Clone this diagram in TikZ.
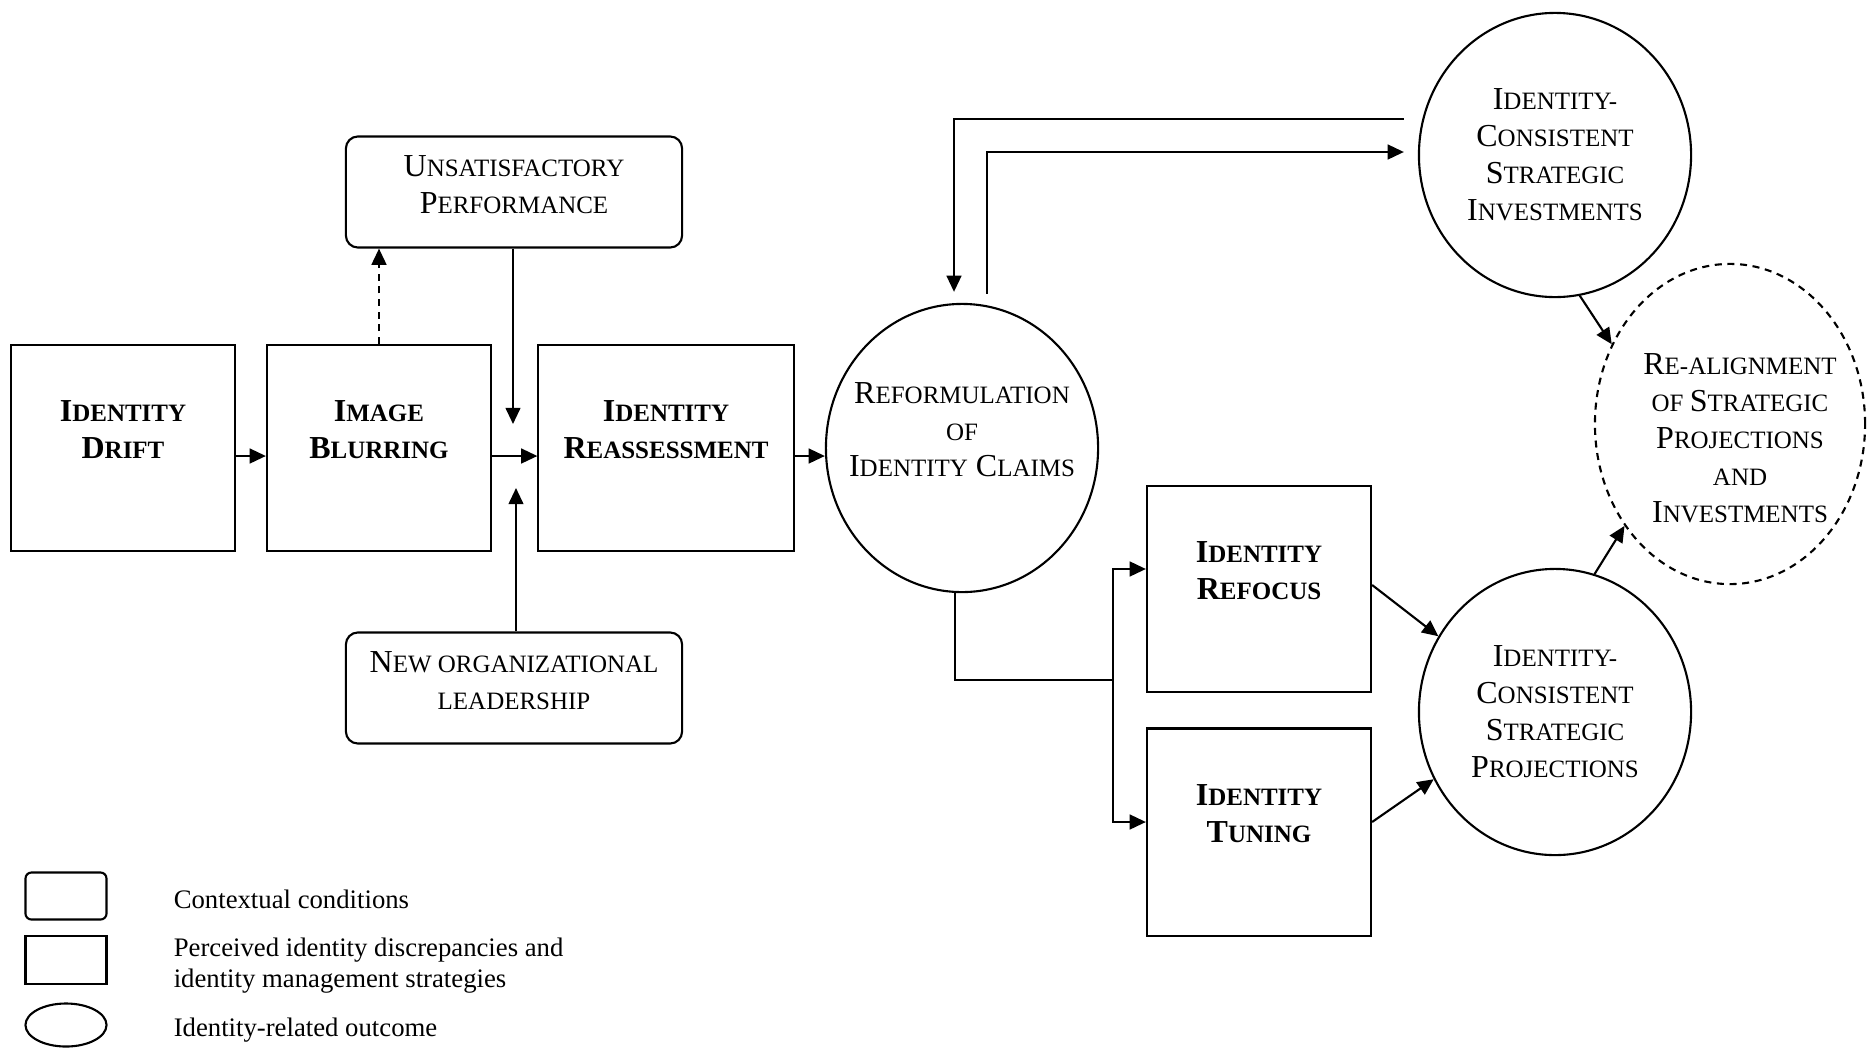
\documentclass[tikz,border=0pt]{standalone}
\usepackage{fontspec}
\setmainfont{Liberation Serif}
\usetikzlibrary{shapes.geometric,arrows.meta}
\newcommand\lowcap[1]{{\fontsize{7.1}{10.5}\selectfont #1}}

\begin{document}
\begin{tikzpicture}[x=0.01cm,y=-0.01cm,line width=0.6pt,
    >={Triangle[length=4.6pt,width=4.2pt]},
    every node/.style={font=\fontsize{9.1}{10.5}\selectfont,align=center},
    stage/.style={draw,rectangle,minimum width=2.24cm,minimum height=2.06cm},
    context/.style={draw,rectangle,rounded corners=0.12cm,minimum width=3.36cm,minimum height=1.11cm},
    outcome/.style={draw,ellipse,inner xsep=-12pt,minimum width=2.72cm,minimum height=2.86cm},
    dashline/.style={dash pattern=on 2pt off 1.6pt},
    keytext/.style={anchor=west,align=left,font=\fontsize{7.6}{8.8}\selectfont}]
      \useasboundingbox (0,0) rectangle (1867,1048);

      \node[stage] (drift) at (123,448) {\textbf{I\lowcap{DENTITY}}\\\textbf{D\lowcap{RIFT}}\\\mbox{}};
      \node[stage] (blur) at (379,448) {\textbf{I\lowcap{MAGE}}\\\textbf{B\lowcap{LURRING}}\\\mbox{}};
      \node[stage,minimum width=2.55cm] (reassess) at (666,448) {\textbf{I\lowcap{DENTITY}}\\\textbf{R\lowcap{EASSESSMENT}}\\\mbox{}};

      \node[context] (perform) at (514,192) {U\lowcap{NSATISFACTORY}\\P\lowcap{ERFORMANCE}\\[-6pt]\mbox{}};
      \node[context] (leader) at (514,688) {N\lowcap{EW ORGANIZATIONAL}\\\lowcap{LEADERSHIP}\\[-6pt]\mbox{}};

      \node[outcome,minimum height=2.88cm] (reform) at (962,448) {R\lowcap{EFORMULATION}\\\lowcap{OF}\\I\lowcap{DENTITY} C\lowcap{LAIMS}\\\mbox{}};
      \node[outcome,minimum height=2.84cm] (invest) at (1555,155) {I\lowcap{DENTITY-}\\C\lowcap{ONSISTENT}\\S\lowcap{TRATEGIC}\\I\lowcap{NVESTMENTS}};
      \node[outcome] (project) at (1555,712) {I\lowcap{DENTITY-}\\C\lowcap{ONSISTENT}\\S\lowcap{TRATEGIC}\\P\lowcap{ROJECTIONS}};
      \node[outcome,dashline,minimum width=2.70cm,minimum height=3.20cm] (realign) at (1730,424) {\mbox{}\\[3.5pt]\hspace*{0.2cm}R\lowcap{E-ALIGNMENT}\\\hspace*{0.2cm}\lowcap{OF }S\lowcap{TRATEGIC}\\\hspace*{0.2cm}P\lowcap{ROJECTIONS}\\\hspace*{0.2cm}\lowcap{AND}\\\hspace*{0.2cm}I\lowcap{NVESTMENTS}};

      \node[stage] (refocus) at (1259,589) {\textbf{I\lowcap{DENTITY}}\\\textbf{R\lowcap{EFOCUS}}\\\mbox{}};
      \node[stage,minimum height=2.07cm] (tuning) at (1259,832) {\textbf{I\lowcap{DENTITY}}\\\textbf{T\lowcap{UNING}}\\\mbox{}};

      \coordinate (jtop) at (513,424);
      \coordinate (jbot) at (516,488);
      \coordinate (fork) at (1113,680);

      \draw[->] ([yshift=-0.08cm]drift.east) -- ([yshift=-0.08cm]blur.west);
      \draw[->] ([yshift=-0.08cm]blur.east) -- ([yshift=-0.08cm]reassess.west);
      \draw[->] ([yshift=-0.08cm]reassess.east) -- ([yshift=-0.08cm]reform.west);
      \draw[->,dashline] (blur.north) -- (blur.north |- perform.south);
      \draw[->] (perform.south -| jtop) -- (jtop);
      \draw[->] (leader.north -| jbot) -- (jbot);

      \draw[->] ([xshift=-0.14cm,yshift=0.36cm]invest.west) -| ([xshift=-0.08cm,yshift=0.11cm]reform.north);
      \draw[->] ([xshift=0.25cm,yshift=0.09cm]reform.north) |- ([xshift=-0.14cm,yshift=0.03cm]invest.west);

      \draw ([xshift=-0.07cm]reform.south) |- (fork);
      \draw[->] (fork) |- ([yshift=0.2cm]refocus.west);
      \draw[->] (fork) |- ([yshift=0.1cm]tuning.west);

      \draw[->] ([yshift=0.04cm]refocus.east) -- (project.147);
      \draw[->] ([yshift=0.1cm]tuning.east) -- (project.209);
      \draw[->] (invest.-80) -- (realign.146);
      \draw[->] (project.74) -- (realign.224);

      \node[draw,rectangle,rounded corners=0.06cm,minimum width=0.81cm,minimum height=0.47cm] (keyctx) at (66,896) {};
      \node[draw,rectangle,minimum width=0.81cm,minimum height=0.48cm] (keystr) at (66,960) {};
      \node[draw,ellipse,minimum width=0.81cm,minimum height=0.43cm] (keyout) at (66,1025) {};
      \node[keytext] (txtctx) at (161,899) {Contextual conditions};
      \node[keytext] (txtstr) at (161,966) {Perceived identity discrepancies and\\identity management strategies};
      \node[keytext] (txtout) at (161,1030) {Identity-related outcome};
\end{tikzpicture}
\end{document}
